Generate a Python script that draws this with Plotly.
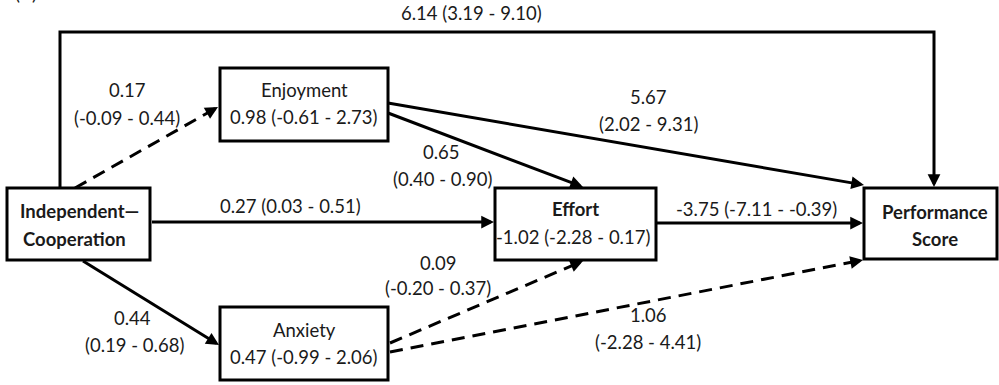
import math
import plotly.graph_objects as go

# ---------------- data ----------------
node_names = ["Independent—Cooperation", "Enjoyment", "Effort", "Anxiety", "Performance Score"]
node_lines = [["Independent—", "Cooperation"], ["Enjoyment"], ["Effort"], ["Anxiety"], ["Performance", "Score"]]
node_bold = [True, False, True, False, True]
node_b = [None, 0.98, -1.02, 0.47, None]
node_lo = [None, -0.61, -2.28, -0.99, None]
node_hi = [None, 2.73, 0.17, 2.06, None]

path_from = ["Independent—Cooperation", "Independent—Cooperation", "Independent—Cooperation",
             "Independent—Cooperation", "Enjoyment", "Enjoyment", "Anxiety", "Anxiety", "Effort"]
path_to = ["Performance Score", "Enjoyment", "Effort", "Anxiety", "Effort",
           "Performance Score", "Effort", "Performance Score", "Performance Score"]
path_b = [6.14, 0.17, 0.27, 0.44, 0.65, 5.67, 0.09, 1.06, -3.75]
path_lo = [3.19, -0.09, 0.03, 0.19, 0.40, 2.02, -0.20, -2.28, -7.11]
path_hi = [9.10, 0.44, 0.51, 0.68, 0.90, 9.31, 0.37, 4.41, -0.39]
panel_label = "(B)"

# ---------------- layout (pixel-like diagram coordinates) ----------------
W, H = 999, 385
box_pos = {
    "Independent—Cooperation": (7, 188, 150, 260),
    "Enjoyment": (220, 68, 388, 141),
    "Effort": (495, 188, 656, 260),
    "Anxiety": (220, 307, 388, 380),
    "Performance Score": (864, 188, 997, 259),
}
node_text_pos = {
    "Independent—Cooperation": [(79, 211), (74, 239)],
    "Enjoyment": [(304, 90), (304, 117)],
    "Effort": [(575, 209), (573, 237)],
    "Anxiety": [(304, 330), (304, 357)],
    "Performance Score": [(935, 212), (935, 239)],
}
# waypoints for each path (same order as path arrays)
path_geom = [
    [(60, 188), (60, 32), (934, 32), (934, 187)],
    [(75, 188), (218, 107)],
    [(152, 222), (494, 222)],
    [(83, 261), (219, 345)],
    [(388, 113), (583, 187)],
    [(388, 103), (864, 185)],
    [(390, 343), (583, 261)],
    [(390, 352), (863, 260)],
    [(657, 223), (863, 223)],
]
# label placement: one line -> [(x,y)], two lines -> [(x,y),(x,y)]
path_label_pos = [
    [(471, 13)],
    [(127, 90), (127, 118)],
    [(290, 206)],
    [(132, 318), (134, 345)],
    [(441, 152), (442, 179)],
    [(648, 97), (648, 124)],
    [(438, 263), (438, 288)],
    [(648, 315), (648, 342)],
    [(756, 209)],
]

FONT = "Lato"
FS = 18.5
TXT = "#1a1a1a"
LW = 3

fig = go.Figure()
shapes = []
annotations = []

for name in node_names:
    x0, y0, x1, y1 = box_pos[name]
    shapes.append(dict(type="rect", xref="x", yref="y", x0=x0, y0=y0, x1=x1, y1=y1,
                       line=dict(color="black", width=LW), fillcolor="white", layer="above"))

for i, name in enumerate(node_names):
    lines = list(node_lines[i])
    bolds = [node_bold[i]] * len(lines)
    if node_b[i] is not None:
        lines.append(f"{node_b[i]:.2f} ({node_lo[i]:.2f} - {node_hi[i]:.2f})")
        bolds.append(False)
    for (tx, ty), t, b in zip(node_text_pos[name], lines, bolds):
        annotations.append(dict(x=tx, y=ty, xref="x", yref="y", text=f"<b>{t}</b>" if b else t,
                                showarrow=False, xanchor="center", yanchor="middle",
                                font=dict(family=FONT, size=FS, color=TXT)))

for i in range(len(path_b)):
    pts = path_geom[i]
    sig = path_lo[i] * path_hi[i] > 0
    (xa, ya), (xb, yb) = pts[-2], pts[-1]
    d = math.hypot(xb - xa, yb - ya)
    ux, uy = (xb - xa) / d, (yb - ya) / d
    xs = [p[0] for p in pts]
    ys = [p[1] for p in pts]
    xs[-1] = xb - ux * 8
    ys[-1] = yb - uy * 8
    fig.add_trace(go.Scatter(x=xs, y=ys, mode="lines", hoverinfo="skip", showlegend=False,
                             line=dict(color="black", width=LW,
                                       dash="solid" if sig else "13px,8px")))
    annotations.append(dict(x=xb, y=yb, ax=xb - ux * 9, ay=yb - uy * 9, xref="x", yref="y",
                            axref="x", ayref="y", text="", showarrow=True, arrowhead=2,
                            arrowsize=0.85, arrowwidth=LW, arrowcolor="black", standoff=0))
    one = f"{path_b[i]:.2f} ({path_lo[i]:.2f} - {path_hi[i]:.2f})"
    two = [f"{path_b[i]:.2f}", f"({path_lo[i]:.2f} - {path_hi[i]:.2f})"]
    texts = [one] if len(path_label_pos[i]) == 1 else two
    for (tx, ty), t in zip(path_label_pos[i], texts):
        annotations.append(dict(x=tx, y=ty, xref="x", yref="y", text=t, showarrow=False,
                                xanchor="center", yanchor="middle",
                                font=dict(family=FONT, size=FS, color=TXT)))

annotations.append(dict(x=26 / W, y=1 + 7 / H, xref="paper", yref="paper", text=panel_label,
                        showarrow=False, xanchor="center", yanchor="middle",
                        font=dict(family=FONT, size=FS, color=TXT)))

fig.update_layout(
    width=W, height=H, margin=dict(l=0, r=0, t=0, b=0),
    paper_bgcolor="white", plot_bgcolor="white",
    xaxis=dict(range=[0, W], visible=False, fixedrange=True),
    yaxis=dict(range=[H, 0], visible=False, fixedrange=True),
    shapes=shapes, annotations=annotations,
)
fig.write_html("out.html", config={"displayModeBar": False},
               post_script="document.body.style.margin='0px';document.body.style.overflow='hidden';")
